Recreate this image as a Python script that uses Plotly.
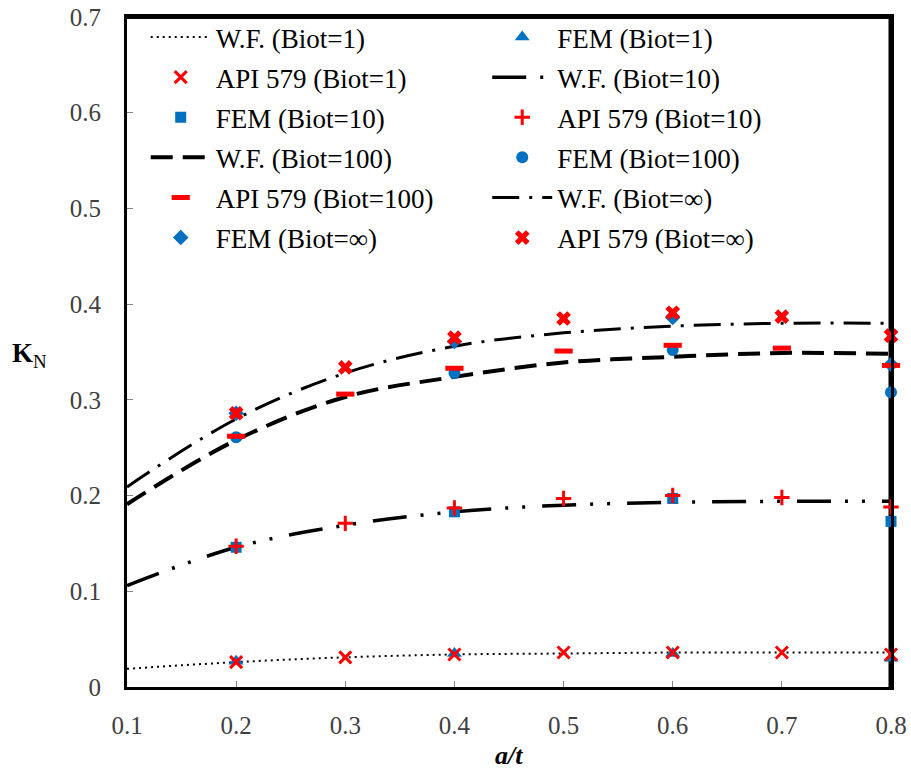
import plotly.graph_objects as go

# ---------------- data ----------------
wf_x = [0.1, 0.2, 0.3, 0.4, 0.5, 0.6, 0.7, 0.8]
wf_biot1 = [0.019, 0.026, 0.031, 0.034, 0.035, 0.036, 0.036, 0.036]
wf_biot10 = [0.106, 0.146, 0.169, 0.183, 0.190, 0.193, 0.194, 0.194]
wf_biot100 = [0.191, 0.258, 0.303, 0.324, 0.339, 0.345, 0.349, 0.348]
wf_biotinf = [0.209, 0.280, 0.328, 0.356, 0.370, 0.377, 0.380, 0.380]

fem_x = [0.2, 0.4, 0.6, 0.8]
fem_biot1 = [0.027, 0.035, 0.035, 0.030]
fem_biot10 = [0.146, 0.183, 0.197, 0.173]
fem_biot100 = [0.261, 0.328, 0.352, 0.308]
fem_biotinf = [0.286, 0.361, 0.386, 0.337]

api_x = [0.2, 0.3, 0.4, 0.5, 0.6, 0.7, 0.8]
api_biot1 = [0.026, 0.031, 0.034, 0.036, 0.036, 0.036, 0.034]
api_biot10 = [0.147, 0.171, 0.187, 0.197, 0.200, 0.198, 0.188]
api_biot100 = [0.262, 0.306, 0.333, 0.351, 0.357, 0.354, 0.336]
api_biotinf = [0.286, 0.334, 0.365, 0.385, 0.391, 0.387, 0.367]

x_ticks = [0.1, 0.2, 0.3, 0.4, 0.5, 0.6, 0.7, 0.8]
y_ticks = [0, 0.1, 0.2, 0.3, 0.4, 0.5, 0.6, 0.7]

BLUE = "#0070C0"
RED = "#FF0000"
FONT = "Liberation Serif, Times New Roman, DejaVu Serif, serif"

fig = go.Figure()

def line_trace(y, name, dash, width, legend, rank):
    fig.add_trace(go.Scatter(
        x=wf_x, y=y, name=name, mode="lines", line_shape="spline",
        line=dict(color="black", width=width, dash=dash),
        legend=legend, legendrank=rank, legendgroup=name, cliponaxis=False))

def marker_trace(x, y, name, symbol, color, size, lw, legend, rank, filled=True):
    m = dict(symbol=symbol, size=size, color=color)
    if filled:
        m["line"] = dict(width=0)
    else:
        m["line"] = dict(width=lw, color=color)
    fig.add_trace(go.Scatter(
        x=x, y=y, name=name, mode="markers", marker=m,
        legend=legend, legendrank=rank, legendgroup=name, cliponaxis=False))

# lines
line_trace(wf_biot1, "W.F. (Biot=1)", "2px,4px", 2, "legend", 1)
line_trace(wf_biot10, "W.F. (Biot=10)", "34px,14px,3px,14px,3px,17px", 3.5, "legend2", 2)
line_trace(wf_biot100, "W.F. (Biot=100)", "22px,10px", 4, "legend", 4)
line_trace(wf_biotinf, "W.F. (Biot=∞)", "27px,10px,3px,10px", 3, "legend2", 5)

# FEM markers
marker_trace(fem_x, fem_biot1, "FEM (Biot=1)", "triangle-up", BLUE, 13, 0, "legend2", 1)
marker_trace(fem_x, fem_biot10, "FEM (Biot=10)", "square", BLUE, 11, 0, "legend", 3)
marker_trace(fem_x, fem_biot100, "FEM (Biot=100)", "circle", BLUE, 12, 0, "legend2", 4)
marker_trace(fem_x, fem_biotinf, "FEM (Biot=∞)", "diamond", BLUE, 12, 0, "legend", 6)

# API 579 markers
marker_trace(api_x, api_biot1, "API 579 (Biot=1)", "x-thin", RED, 12, 3, "legend", 2, filled=False)
marker_trace(api_x, api_biot10, "API 579 (Biot=10)", "cross-thin", RED, 11, 3, "legend2", 3, filled=False)
marker_trace(api_x, api_biot100, "API 579 (Biot=100)", "line-ew", RED, 13, 5, "legend", 5, filled=False)
marker_trace(api_x, api_biotinf, "API 579 (Biot=∞)", "x", RED, 13, 0, "legend2", 6)

legend_common = dict(
    font=dict(family=FONT, size=27, color="black"),
    bgcolor="rgba(0,0,0,0)", borderwidth=0,
    itemwidth=60, traceorder="grouped", tracegroupgap=2,
    yanchor="top", y=1.006, xanchor="left",
)

fig.update_layout(
    width=911, height=773,
    margin=dict(l=127, r=20, t=17, b=86, autoexpand=False),
    paper_bgcolor="white", plot_bgcolor="white",
    font=dict(family=FONT, size=25, color="#404040"),
    showlegend=True,
    legend=dict(x=0.0245, **legend_common),
    legend2=dict(x=0.4715, **legend_common),
    xaxis=dict(
        range=[0.1, 0.8], tickvals=x_ticks, ticktext=[str(v) for v in x_ticks],
        showgrid=False, zeroline=False, automargin=False,
        showline=True, linecolor="black", linewidth=3, mirror=True,
        ticks="inside", ticklen=6, tickcolor="#888888", tickwidth=1,
        ticklabelstandoff=14, ticklabeloverflow="allow",
        tickfont=dict(family=FONT, size=25, color="#404040"),
    ),
    yaxis=dict(
        range=[0, 0.7], tickvals=y_ticks, ticktext=["0"] + [str(v) for v in y_ticks[1:]],
        showgrid=False, zeroline=False, automargin=False,
        showline=True, linecolor="black", linewidth=3, mirror=True,
        ticks="inside", ticklen=6, tickcolor="#888888", tickwidth=1,
        ticklabelstandoff=18, ticklabeloverflow="allow",
        tickfont=dict(family=FONT, size=25, color="#404040"),
    ),
    shapes=[
        # heavier right and top frame edges, as in the original figure (drawn under the marks)
        dict(type="line", xref="paper", yref="paper", x0=1, x1=1, y0=0, y1=1,
             line=dict(color="black", width=5), layer="below"),
        dict(type="line", xref="paper", yref="paper", x0=0, x1=1, y0=1, y1=1,
             line=dict(color="black", width=4), layer="below"),
    ],
    annotations=[
        dict(text="<b><i>a/t</i></b>", xref="paper", yref="paper",
             x=0.5, y=-0.1265, xanchor="center", yanchor="bottom",
             showarrow=False, font=dict(family=FONT, size=26, color="black")),
        dict(text="<b>K</b><sub>N</sub>", xref="paper", yref="paper",
             x=-0.127, y=0.496, xanchor="center", yanchor="middle",
             showarrow=False, font=dict(family=FONT, size=27, color="black")),
    ],
)

fig.write_html(
    "out.html",
    config={"displayModeBar": False},
    post_script="document.body.style.margin='0';document.body.style.overflow='hidden';",
)
